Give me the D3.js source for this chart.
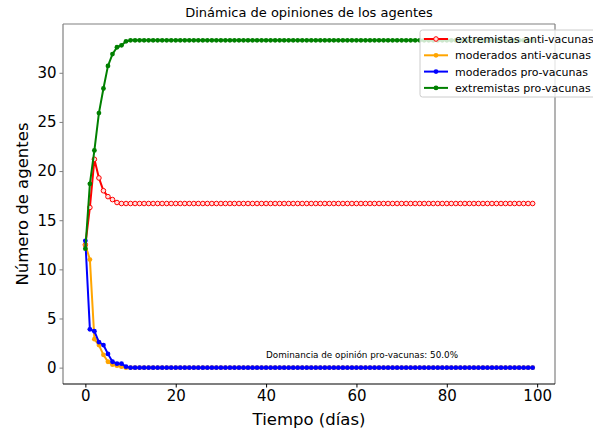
<!DOCTYPE html>
<html>
<head>
<meta charset="utf-8">
<script src="https://cdn.jsdelivr.net/npm/d3@7"></script>
<style>
  body { margin: 0; background: #fff; }
  svg { font-family: "DejaVu Sans", sans-serif; }
</style>
</head>
<body>
<div id="chart"></div>
<script>
// Opinion dynamics: four agent groups over 100 days

const WIDTH = 593;
const HEIGHT = 431;
const MARGIN = { top: 24, right: 38, bottom: 47, left: 63 };

const days = d3.range(0, 100);

const extremistasAnti = [
  12.5, 16.3, 21.2, 19.3, 18.0, 17.4, 17.1, 16.8, 16.7, 16.7,
  16.7, 16.7, 16.7, 16.7, 16.7, 16.7, 16.7, 16.7, 16.7, 16.7,
  16.7, 16.7, 16.7, 16.7, 16.7, 16.7, 16.7, 16.7, 16.7, 16.7,
  16.7, 16.7, 16.7, 16.7, 16.7, 16.7, 16.7, 16.7, 16.7, 16.7,
  16.7, 16.7, 16.7, 16.7, 16.7, 16.7, 16.7, 16.7, 16.7, 16.7,
  16.7, 16.7, 16.7, 16.7, 16.7, 16.7, 16.7, 16.7, 16.7, 16.7,
  16.7, 16.7, 16.7, 16.7, 16.7, 16.7, 16.7, 16.7, 16.7, 16.7,
  16.7, 16.7, 16.7, 16.7, 16.7, 16.7, 16.7, 16.7, 16.7, 16.7,
  16.7, 16.7, 16.7, 16.7, 16.7, 16.7, 16.7, 16.7, 16.7, 16.7,
  16.7, 16.7, 16.7, 16.7, 16.7, 16.7, 16.7, 16.7, 16.7, 16.7
];
const moderadosAnti = [
  12.5, 11.0, 2.9, 2.3, 1.3, 0.6, 0.3, 0.2, 0.1, 0,
  0, 0, 0, 0, 0, 0, 0, 0, 0, 0,
  0, 0, 0, 0, 0, 0, 0, 0, 0, 0,
  0, 0, 0, 0, 0, 0, 0, 0, 0, 0,
  0, 0, 0, 0, 0, 0, 0, 0, 0, 0,
  0, 0, 0, 0, 0, 0, 0, 0, 0, 0,
  0, 0, 0, 0, 0, 0, 0, 0, 0, 0,
  0, 0, 0, 0, 0, 0, 0, 0, 0, 0,
  0, 0, 0, 0, 0, 0, 0, 0, 0, 0,
  0, 0, 0, 0, 0, 0, 0, 0, 0, 0
];
const moderadosPro = [
  12.9, 3.9, 3.7, 2.6, 2.3, 1.4, 0.6, 0.4, 0.4, 0.1,
  0, 0, 0, 0, 0, 0, 0, 0, 0, 0,
  0, 0, 0, 0, 0, 0, 0, 0, 0, 0,
  0, 0, 0, 0, 0, 0, 0, 0, 0, 0,
  0, 0, 0, 0, 0, 0, 0, 0, 0, 0,
  0, 0, 0, 0, 0, 0, 0, 0, 0, 0,
  0, 0, 0, 0, 0, 0, 0, 0, 0, 0,
  0, 0, 0, 0, 0, 0, 0, 0, 0, 0,
  0, 0, 0, 0, 0, 0, 0, 0, 0, 0,
  0, 0, 0, 0, 0, 0, 0, 0, 0, 0
];
const extremistasPro = [
  12.1, 18.7, 22.1, 25.9, 28.4, 30.7, 31.9, 32.6, 32.8, 33.2,
  33.3, 33.3, 33.3, 33.3, 33.3, 33.3, 33.3, 33.3, 33.3, 33.3,
  33.3, 33.3, 33.3, 33.3, 33.3, 33.3, 33.3, 33.3, 33.3, 33.3,
  33.3, 33.3, 33.3, 33.3, 33.3, 33.3, 33.3, 33.3, 33.3, 33.3,
  33.3, 33.3, 33.3, 33.3, 33.3, 33.3, 33.3, 33.3, 33.3, 33.3,
  33.3, 33.3, 33.3, 33.3, 33.3, 33.3, 33.3, 33.3, 33.3, 33.3,
  33.3, 33.3, 33.3, 33.3, 33.3, 33.3, 33.3, 33.3, 33.3, 33.3,
  33.3, 33.3, 33.3, 33.3, 33.3, 33.3, 33.3, 33.3, 33.3, 33.3,
  33.3, 33.3, 33.3, 33.3, 33.3, 33.3, 33.3, 33.3, 33.3, 33.3,
  33.3, 33.3, 33.3, 33.3, 33.3, 33.3, 33.3, 33.3, 33.3, 33.3
];

const seriesNames = ['extremistas anti-vacunas', 'moderados anti-vacunas', 'moderados pro-vacunas', 'extremistas pro-vacunas'];
const seriesValues = [extremistasAnti, moderadosAnti, moderadosPro, extremistasPro];
const seriesColors = ['#ff0000', '#ffa500', '#0000ff', '#008000'];
const seriesHollow = [true, false, false, false];

const xTicks = [0, 20, 40, 60, 80, 100];
const yTicks = [0, 5, 10, 15, 20, 25, 30];
const annotation = { x: 40, y: 1, text: 'Dominancia de opinión pro-vacunas: 50.0%' };

const plotW = WIDTH - MARGIN.left - MARGIN.right;
const plotH = HEIGHT - MARGIN.top - MARGIN.bottom;

const svg = d3.select('#chart')
  .append('svg')
  .attr('width', WIDTH)
  .attr('height', HEIGHT);

// matplotlib-style 5% margins
const xPad = (99 - 0) * 0.05;
const yMax = d3.max(seriesValues.flat());
const yPad = yMax * 0.05;

const x = d3.scaleLinear().domain([0 - xPad, 99 + xPad]).range([0, plotW]);
const y = d3.scaleLinear().domain([0 - yPad, yMax + yPad]).range([plotH, 0]);

const g = svg.append('g').attr('transform', `translate(${MARGIN.left}, ${MARGIN.top})`);

// Axes
const xAxis = g.append('g')
  .attr('transform', `translate(0, ${plotH})`)
  .call(d3.axisBottom(x).tickValues(xTicks).tickSize(3.5).tickPadding(3));
xAxis.select('.domain').remove();
xAxis.selectAll('text').attr('font-size', 15).attr('fill', '#000').attr('font-family', 'DejaVu Sans');
xAxis.selectAll('line').attr('stroke', '#000');

const yAxis = g.append('g')
  .call(d3.axisLeft(y).tickValues(yTicks).tickSize(3.5).tickPadding(3));
yAxis.select('.domain').remove();
yAxis.selectAll('text').attr('font-size', 15).attr('fill', '#000').attr('font-family', 'DejaVu Sans');
yAxis.selectAll('line').attr('stroke', '#808080');

// Spines
g.append('line').attr('x1', 0).attr('x2', 0).attr('y1', 0).attr('y2', plotH).attr('stroke', '#808080').attr('stroke-width', 1.2);
g.append('line').attr('x1', 0).attr('x2', plotW).attr('y1', 0).attr('y2', 0).attr('stroke', '#808080').attr('stroke-width', 1.2);
g.append('line').attr('x1', plotW).attr('x2', plotW).attr('y1', 0).attr('y2', plotH).attr('stroke', '#808080').attr('stroke-width', 1.2);
g.append('line').attr('x1', 0).attr('x2', plotW).attr('y1', plotH).attr('y2', plotH).attr('stroke', '#000').attr('stroke-width', 1.2);

// Lines and markers
const line = d3.line().x((d, i) => x(days[i])).y(d => y(d));

seriesValues.forEach((vals, k) => {
  const s = g.append('g').attr('class', 'series');
  s.append('path')
    .datum(vals)
    .attr('d', line)
    .attr('fill', 'none')
    .attr('stroke', seriesColors[k])
    .attr('stroke-width', 2);
  s.selectAll('circle')
    .data(vals)
    .enter()
    .append('circle')
    .attr('cx', (d, i) => x(days[i]))
    .attr('cy', d => y(d))
    .attr('r', seriesHollow[k] ? 2.3 : 2.4)
    .attr('fill', seriesHollow[k] ? '#ffe0e0' : seriesColors[k])
    .attr('stroke', seriesColors[k])
    .attr('stroke-width', seriesHollow[k] ? 1 : 0);
});

// Annotation
g.append('text')
  .attr('x', x(annotation.x))
  .attr('y', y(annotation.y))
  .attr('font-size', 8.8)
  .text(annotation.text);

// Title and axis labels
svg.append('text')
  .attr('x', MARGIN.left + plotW / 2)
  .attr('y', 17)
  .attr('text-anchor', 'middle')
  .attr('font-size', 13)
  .text('Dinámica de opiniones de los agentes');

svg.append('text')
  .attr('x', MARGIN.left + plotW / 2)
  .attr('y', 425)
  .attr('text-anchor', 'middle')
  .attr('font-size', 16.5)
  .text('Tiempo (días)');

svg.append('text')
  .attr('transform', `translate(28, ${MARGIN.top + plotH / 2}) rotate(-90)`)
  .attr('text-anchor', 'middle')
  .attr('font-size', 16.5)
  .text('Número de agentes');

// Legend (spills over the right edge, as in the original)
const legend = svg.append('g').attr('transform', 'translate(420, 30)');
legend.append('rect')
  .attr('width', 200)
  .attr('height', 67)
  .attr('rx', 2.5)
  .attr('fill', 'rgba(255,255,255,0.8)')
  .attr('stroke', '#cccccc')
  .attr('stroke-width', 1);

seriesNames.forEach((name, k) => {
  const yy = 9 + k * 16.3;
  legend.append('line')
    .attr('x1', 4).attr('x2', 28).attr('y1', yy).attr('y2', yy)
    .attr('stroke', seriesColors[k]).attr('stroke-width', 2);
  legend.append('circle')
    .attr('cx', 16).attr('cy', yy)
    .attr('r', seriesHollow[k] ? 2.3 : 2.4)
    .attr('fill', seriesHollow[k] ? '#ffe0e0' : seriesColors[k])
    .attr('stroke', seriesColors[k])
    .attr('stroke-width', seriesHollow[k] ? 1 : 0);
  legend.append('text')
    .attr('x', 35)
    .attr('y', yy + 4)
    .attr('font-size', 11)
    .text(name);
});
</script>
</body>
</html>
